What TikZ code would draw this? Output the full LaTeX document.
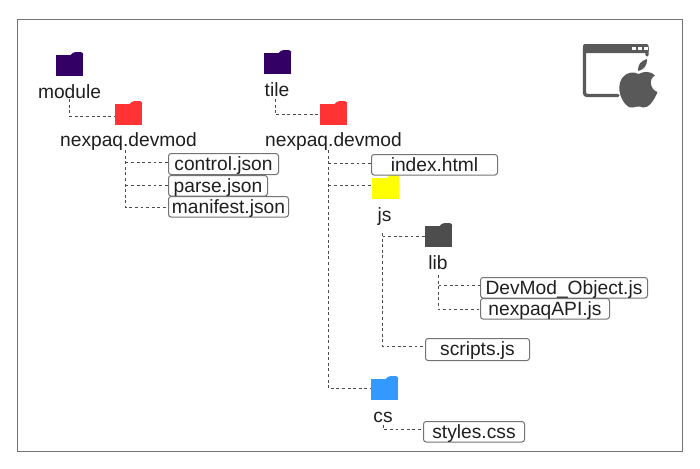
\documentclass[tikz,border=0pt]{standalone}
\usepackage{fontspec}
\setmainfont{Liberation Sans}
\definecolor{purp}{HTML}{330066}
\definecolor{redf}{HTML}{FF3333}
\definecolor{yelf}{HTML}{FFFF00}
\definecolor{grayf}{HTML}{4D4D4D}
\definecolor{bluef}{HTML}{3399FF}
\definecolor{icon}{HTML}{595959}
\tikzset{
  x=0.75pt,y=-0.75pt,
  lbl/.style={inner sep=0pt,font=\fontsize{14.4pt}{16pt}\selectfont,text=black!88,anchor=center,text height=10.4pt,text depth=3pt},
  filebox/.style={draw=black!55,line width=0.75pt,rounded corners=2pt,fill=white,inner sep=0pt,font=\fontsize{14.4pt}{16pt}\selectfont,text=black!88,text height=12.4pt,text depth=3pt,anchor=north west},
  link/.style={draw=black!70,line width=0.75pt,dash pattern=on 2.2pt off 2pt},
  folderbody/.style={inner sep=0pt,minimum width=20.25pt,minimum height=15.75pt,anchor=north west}
}
% name, left, top, colour
\newcommand{\myfolder}[4]{%
  \node[folderbody,fill=#4] (#1) at (#2,#3+3) {};
  \fill[#4] (#2+14,#3+3.5) .. controls (#2+16,#3+1) and (#2+18,#3) .. (#2+20,#3) -- (#2+25,#3) -- (#2+27,#3+1.5) -- (#2+27,#3+3.5) -- cycle;
}
\newcommand{\myfile}[6]{% name,left,top,right,bottom,text
  \node[filebox,minimum width={(#4-#2)*0.75pt},minimum height={(#5-#3)*0.75pt}] (#1) at (#2,#3) {#6};
}
\begin{document}
\begin{tikzpicture}
\useasboundingbox (0,0) rectangle (700,468);
\fill[white] (0,0) rectangle (700,468);
\node[draw=black!55,line width=0.75pt,inner sep=0pt,minimum width=498.75pt,minimum height=324pt,anchor=north west] (frame) at (17,19) {};

% folders
\myfolder{fmodule}{56}{52}{purp}
\myfolder{ftile}{264}{50}{purp}
\myfolder{fnexa}{115}{101}{redf}
\myfolder{fnexb}{320}{101}{redf}
\myfolder{fjs}{372}{175}{yelf}
\myfolder{flib}{425}{223}{grayf}
\myfolder{fcs}{371}{376}{bluef}

% labels
\node[lbl] (lmodule) at (69.5,93.5) {module};
\node[lbl] (ltile) at (277,91.5) {tile};
\node[lbl] (lnexa) at (128.5,141.5) {nexpaq.devmod};
\node[lbl] (lnexb) at (333.5,141.5) {nexpaq.devmod};
\node[lbl] (ljs) at (384.5,216.5) {js};
\node[lbl] (llib) at (438,264.5) {lib};
\node[lbl] (lcs) at (383,417.5) {cs};

% files
\myfile{control}{168}{153}{278}{174}{control.json}
\myfile{parse}{168}{175}{267}{195}{parse.json}
\myfile{manifest}{168}{196}{288}{216}{manifest.json}
\myfile{index}{371}{154}{497}{174}{index.html}
\myfile{devobj}{480}{277}{647}{297}{DevMod\_Object.js}
\myfile{napi}{480}{298}{609}{318}{nexpaqAPI.js}
\myfile{scripts}{425}{338}{529}{360}{scripts.js}
\myfile{styles}{423}{421}{524}{441}{styles.css}

% connectors: one trunk per folder, side branches leave it
\coordinate (tm) at (69.5,99);
\coordinate (tt) at (275,99);
\coordinate (ta) at (125.5,150);
\coordinate (tb) at (328.5,150);
\coordinate (tj) at (382.5,233);
\coordinate (tl) at (438.5,275);
\coordinate (tc) at (383.5,425);
\coordinate (pcontrol) at ([yshift=1.3pt]control.west);
\coordinate (pindex) at ([yshift=1.3pt]index.west);
\coordinate (pfjs) at ([yshift=2.6pt]fjs.west);
\coordinate (pfcs) at ([yshift=1pt]fcs.west);
\coordinate (pdev) at ([yshift=1.5pt]devobj.west);
\coordinate (pmani) at ([yshift=-0.75pt]manifest.west);
\coordinate (papi) at ([yshift=-0.75pt]napi.west);
\coordinate (pscr) at ([yshift=2.2pt]scripts.west);
\coordinate (psty) at ([yshift=1.5pt]styles.west);
\coordinate (pnexa) at ([yshift=-1pt]fnexa.west);
\draw[link] (tm) |- (pnexa);
\draw[link] (tt) |- (fnexb.west);
\draw[link] (ta) |- (pmani);
\draw[link] (ta |- pcontrol) -- (pcontrol);
\draw[link] (ta |- parse.west) -- (parse.west);
\draw[link] (tb) |- (pfcs);
\draw[link] (tb |- pindex) -- (pindex);
\draw[link] (tb |- pfjs) -- (pfjs);
\draw[link] (tj) |- (pscr);
\draw[link] (tj |- flib.west) -- (flib.west);
\draw[link] (tl) |- (papi);
\draw[link] (tl |- pdev) -- (pdev);
\draw[link] (tc) |- (psty);

% window + apple icon
\draw[icon,line width=2.5pt,line cap=round,rounded corners=2pt] (618,95.5) -- (584.5,95.5) -- (584.5,46) -- (647,46) -- (647,55);
\fill[icon,rounded corners=1.5pt] (583,53) -- (583,44) -- (648.5,44) -- (648.5,53) -- cycle;
\fill[white] (632,46.5) rectangle (636,50);
\fill[white] (638,46.5) rectangle (642,50);
\fill[white] (644,46.5) rectangle (647.5,50);
% apple
\fill[icon] (638.5,74)
  .. controls (634,71.5) and (627,72) .. (623,77)
  .. controls (618,83) and (618.5,92) .. (622,99)
  .. controls (625,105) and (629,108.5) .. (633,107.5)
  .. controls (636,106.5) and (640,106) .. (643,107.5)
  .. controls (648,108.5) and (654,101) .. (657.5,92)
  .. controls (650.5,90) and (648,79) .. (655,75.5)
  .. controls (651,71) and (644,71) .. (638.5,74) -- cycle;
\fill[icon] (638,71)
  .. controls (637.5,65) and (641,60.5) .. (647,59)
  .. controls (647.5,65) and (644,70) .. (638,71) -- cycle;
\end{tikzpicture}
\end{document}
